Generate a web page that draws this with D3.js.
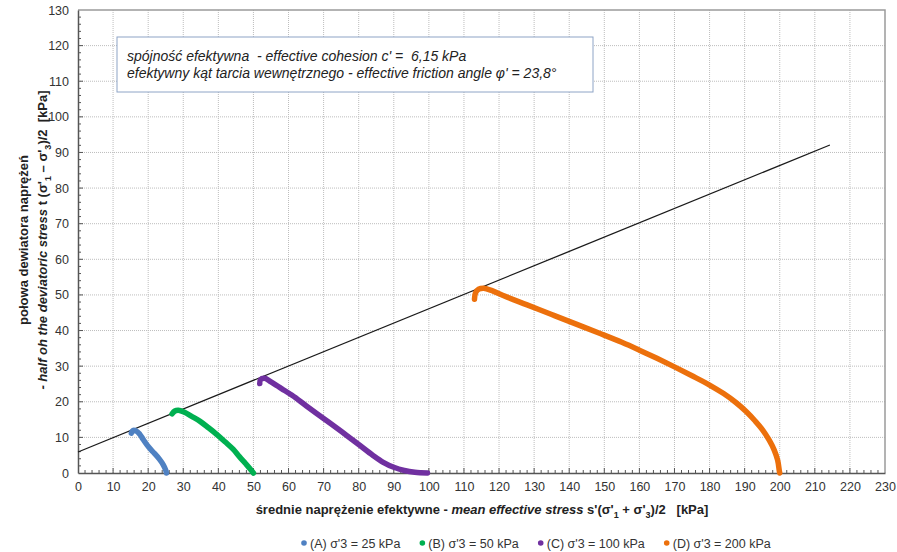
<!DOCTYPE html>
<html>
<head>
<meta charset="utf-8">
<script src="https://cdn.jsdelivr.net/npm/d3@7"></script>
<style>
  body { margin: 0; background: #fff; }
  svg text { font-family: "Liberation Sans", Arial, sans-serif; white-space: pre; }
</style>
</head>
<body>
<div id="chart"></div>
<script>
// stress path data: [s', t]
const pathA = [[15.2, 11.2], [15.6, 11.9], [16.6, 11.8], [17.6, 10.9], [18.6, 9.4], [20.2, 7.2], [21.8, 5.5], [23.2, 3.9], [24.3, 2.3], [25.0, 0.8], [25.2, 0]];
const pathB = [[26.8, 16.6], [27.6, 17.4], [28.6, 17.6], [30.2, 17.1], [32.4, 15.9], [34.8, 14.5], [37.2, 12.7], [39.6, 10.8], [42.0, 8.7], [44.2, 6.7], [46.0, 4.6], [47.8, 2.6], [49.2, 1.0], [50.0, 0]];
const pathC = [[51.8, 25.1], [52.0, 26.2], [53.2, 26.6], [55.0, 25.6], [58.0, 23.7], [61.0, 21.8], [65.0, 18.9], [70.0, 15.3], [75.0, 11.7], [80.0, 8.0], [84.0, 5.0], [87.0, 3.0], [90.0, 1.6], [93.0, 0.7], [96.0, 0.2], [99.6, 0]];
const pathD = [[113.0, 48.8], [113.3, 50.6], [114.2, 51.6], [115.6, 51.9], [118.0, 51.2], [121.0, 49.9], [128.0, 47.2], [135.0, 44.5], [142.0, 41.8], [149.0, 39.1], [155.0, 36.7], [160.0, 34.5], [165.0, 32.2], [170.0, 29.8], [175.0, 27.3], [180.0, 24.7], [184.0, 22.3], [187.5, 19.8], [190.5, 17.2], [193.0, 14.6], [195.2, 12.0], [197.0, 9.2], [198.4, 6.5], [199.4, 3.6], [199.9, 0.5], [200.0, 0]];
const failureLine = [[0, 5.9], [214.3, 92.1]];

const seriesNames = ["(A) σ'3 = 25 kPa", "(B) σ'3 = 50 kPa", "(C) σ'3 = 100 kPa", "(D) σ'3 = 200 kPa"];
const seriesColors = ["#4f81c2", "#00b050", "#7030a0", "#ec700c"];
const seriesData = [pathA, pathB, pathC, pathD];

const xTicks = d3.range(0, 231, 10);
const yTicks = d3.range(0, 131, 10);

const width = 897, height = 552;
const plot = { left: 78, right: 885, top: 10, bottom: 473 };

const svg = d3.select("#chart").append("svg")
  .attr("width", width).attr("height", height);

const x = d3.scaleLinear().domain([0, 230]).range([plot.left, plot.right]);
const y = d3.scaleLinear().domain([0, 130]).range([plot.bottom, plot.top]);

// grid
const grid = svg.append("g");
grid.selectAll("line.vg").data(xTicks.slice(1, -1)).enter().append("line")
  .attr("x1", d => x(d)).attr("x2", d => x(d))
  .attr("y1", plot.top).attr("y2", plot.bottom)
  .attr("stroke", "#bdbdbd").attr("stroke-width", 1).attr("stroke-dasharray", "1,1");
grid.selectAll("line.hg").data(yTicks.slice(1, -1)).enter().append("line")
  .attr("x1", plot.left).attr("x2", plot.right)
  .attr("y1", d => y(d)).attr("y2", d => y(d))
  .attr("stroke", "#bdbdbd").attr("stroke-width", 1).attr("stroke-dasharray", "1,1");

// top and right frame
svg.append("path")
  .attr("d", `M${plot.left},${plot.top}H${plot.right}V${plot.bottom}`)
  .attr("fill", "none").attr("stroke", "#9a9a9a").attr("stroke-width", 1.5);

// axes
const xAxis = d3.axisBottom(x).tickValues(xTicks).tickSize(0).tickPadding(9);
const yAxis = d3.axisLeft(y).tickValues(yTicks).tickSize(0).tickPadding(9);

const gx = svg.append("g").attr("transform", `translate(0,${plot.bottom})`).call(xAxis);
const gy = svg.append("g").attr("transform", `translate(${plot.left},0)`).call(yAxis);
[gx, gy].forEach(g => {
  g.select(".domain").attr("stroke", "#555").attr("stroke-width", 1.5);
  g.selectAll("text").attr("fill", "#333").style("font-size", "12.5px");
});

// minor ticks (inside)
svg.append("g").selectAll("line").data(d3.range(2, 230, 2)).enter().append("line")
  .attr("x1", d => x(d)).attr("x2", d => x(d))
  .attr("y1", plot.bottom).attr("y2", d => plot.bottom - (d % 10 === 0 ? 5 : 3))
  .attr("stroke", "#555");
svg.append("g").selectAll("line").data(d3.range(2, 130, 2)).enter().append("line")
  .attr("y1", d => y(d)).attr("y2", d => y(d))
  .attr("x1", plot.left).attr("x2", d => plot.left + (d % 10 === 0 ? 5 : 3))
  .attr("stroke", "#555");

// failure envelope
const straight = d3.line().x(d => x(d[0])).y(d => y(d[1]));
svg.append("path").datum(failureLine)
  .attr("d", straight).attr("fill", "none")
  .attr("stroke", "#1a1a1a").attr("stroke-width", 1.3);

// stress paths
const smooth = d3.line().x(d => x(d[0])).y(d => y(d[1])).curve(d3.curveCatmullRom);
seriesData.forEach((data, i) => {
  svg.append("path").datum(data)
    .attr("d", smooth)
    .attr("fill", "none")
    .attr("stroke", seriesColors[i])
    .attr("stroke-width", 5.5)
    .attr("stroke-linecap", "round")
    .attr("stroke-linejoin", "round");
});

// annotation box
svg.append("rect")
  .attr("x", 117).attr("y", 37).attr("width", 476).attr("height", 55)
  .attr("fill", "#fff").attr("stroke", "#8ea4c6").attr("stroke-width", 1);
const ann = svg.append("text").attr("x", 127).attr("y", 61)
  .style("font-size", "14px").style("font-style", "italic").attr("fill", "#222");
ann.append("tspan").text("spójność efektywna  - effective cohesion c' =  6,15 kPa");
ann.append("tspan").attr("x", 127).attr("dy", 17)
  .text("efektywny kąt tarcia wewnętrznego - effective friction angle φ' = 23,8°");

// x axis title
const xt = svg.append("text").attr("x", 482).attr("y", 514)
  .attr("text-anchor", "middle").style("font-size", "13px")
  .style("font-weight", "bold").attr("fill", "#222");
xt.append("tspan").text("średnie naprężenie efektywne - ");
xt.append("tspan").style("font-style", "italic").text("mean effective stress");
xt.append("tspan").text(" s'(σ'");
xt.append("tspan").attr("dy", 4).style("font-size", "9px").text("1");
xt.append("tspan").attr("dy", -4).text(" + σ'");
xt.append("tspan").attr("dy", 4).style("font-size", "9px").text("3");
xt.append("tspan").attr("dy", -4).text(")/2   [kPa]");

// y axis title
const yt = svg.append("text")
  .attr("transform", "translate(0,240) rotate(-90)")
  .attr("text-anchor", "middle").style("font-size", "13px")
  .style("font-weight", "bold").attr("fill", "#222");
yt.append("tspan").attr("x", 0).attr("y", 28).text("połowa dewiatora naprężeń");
const yl2 = yt.append("tspan").attr("x", 0).attr("y", 47);
yl2.append("tspan").style("font-style", "italic").text("- half oh the deviatoric stress");
yl2.append("tspan").text(" t (σ'");
yl2.append("tspan").attr("dy", 4).style("font-size", "9px").text("1");
yl2.append("tspan").attr("dy", -4).text(" – σ'");
yl2.append("tspan").attr("dy", 4).style("font-size", "9px").text("3");
yl2.append("tspan").attr("dy", -4).text(")/2  [kPa]");

// legend, laid out left to right
const legend = svg.append("g");
let lx = 304;
seriesNames.forEach((name, i) => {
  legend.append("circle").attr("cx", lx).attr("cy", 543).attr("r", 2.8)
    .attr("fill", seriesColors[i]);
  const t = legend.append("text").attr("x", lx + 6).attr("y", 547.5)
    .style("font-size", "12.5px").attr("fill", "#333").text(name);
  lx += 6 + t.node().getComputedTextLength() + 22;
});
</script>
</body>
</html>
